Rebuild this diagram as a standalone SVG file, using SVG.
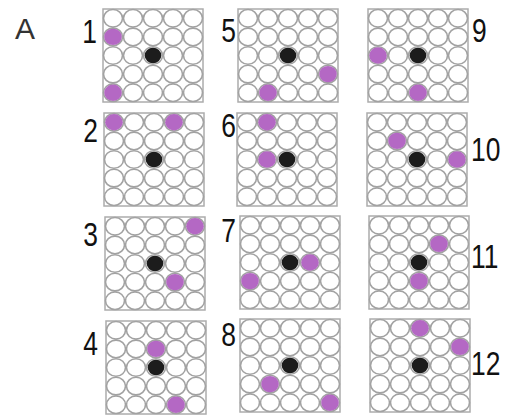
<svg xmlns="http://www.w3.org/2000/svg" xmlns:xlink="http://www.w3.org/1999/xlink" width="505" height="416" viewBox="0 0 505 416">
<style>
.cell{fill:#ffffff;stroke:#a2a2a2;stroke-width:1.6}
.frame{fill:#ffffff;stroke:#acacac;stroke-width:1.5}
.p{fill:#b468c4}
.b{fill:#1c1c1c}
.num{font-family:"Liberation Sans",Arial,sans-serif;font-size:33px;fill:#111}
.lab{font-family:"Liberation Sans",Arial,sans-serif;font-size:30px;fill:#333}
</style>
<defs>
<symbol id="grid" overflow="visible">
<rect class="frame" x="0" y="0" width="100" height="93"/>
<g>
<ellipse class="cell" cx="10" cy="9.3" rx="9.5" ry="8.8"/><ellipse class="cell" cx="30" cy="9.3" rx="9.5" ry="8.8"/><ellipse class="cell" cx="50" cy="9.3" rx="9.5" ry="8.8"/><ellipse class="cell" cx="70" cy="9.3" rx="9.5" ry="8.8"/><ellipse class="cell" cx="90" cy="9.3" rx="9.5" ry="8.8"/>
<ellipse class="cell" cx="10" cy="27.9" rx="9.5" ry="8.8"/><ellipse class="cell" cx="30" cy="27.9" rx="9.5" ry="8.8"/><ellipse class="cell" cx="50" cy="27.9" rx="9.5" ry="8.8"/><ellipse class="cell" cx="70" cy="27.9" rx="9.5" ry="8.8"/><ellipse class="cell" cx="90" cy="27.9" rx="9.5" ry="8.8"/>
<ellipse class="cell" cx="10" cy="46.5" rx="9.5" ry="8.8"/><ellipse class="cell" cx="30" cy="46.5" rx="9.5" ry="8.8"/><ellipse class="cell" cx="50" cy="46.5" rx="9.5" ry="8.8"/><ellipse class="cell" cx="70" cy="46.5" rx="9.5" ry="8.8"/><ellipse class="cell" cx="90" cy="46.5" rx="9.5" ry="8.8"/>
<ellipse class="cell" cx="10" cy="65.1" rx="9.5" ry="8.8"/><ellipse class="cell" cx="30" cy="65.1" rx="9.5" ry="8.8"/><ellipse class="cell" cx="50" cy="65.1" rx="9.5" ry="8.8"/><ellipse class="cell" cx="70" cy="65.1" rx="9.5" ry="8.8"/><ellipse class="cell" cx="90" cy="65.1" rx="9.5" ry="8.8"/>
<ellipse class="cell" cx="10" cy="83.7" rx="9.5" ry="8.8"/><ellipse class="cell" cx="30" cy="83.7" rx="9.5" ry="8.8"/><ellipse class="cell" cx="50" cy="83.7" rx="9.5" ry="8.8"/><ellipse class="cell" cx="70" cy="83.7" rx="9.5" ry="8.8"/><ellipse class="cell" cx="90" cy="83.7" rx="9.5" ry="8.8"/>
</g>
<ellipse class="b" cx="50" cy="46.5" rx="8.3" ry="7.8"/>
</symbol>
</defs>
<rect width="505" height="416" fill="#ffffff"/>
<text class="lab" x="15" y="39">A</text>

<g id="panel1" transform="translate(103,9)">
<use xlink:href="#grid" href="#grid"/>
<ellipse class="p" cx="10" cy="27.9" rx="8.8" ry="8.2"/>
<ellipse class="p" cx="10" cy="83.7" rx="8.8" ry="8.2"/>
</g>
<g id="panel2" transform="translate(104,113)">
<use xlink:href="#grid" href="#grid"/>
<ellipse class="p" cx="10" cy="9.3" rx="8.8" ry="8.2"/>
<ellipse class="p" cx="70" cy="9.3" rx="8.8" ry="8.2"/>
</g>
<g id="panel3" transform="translate(105,217)">
<use xlink:href="#grid" href="#grid"/>
<ellipse class="p" cx="90" cy="9.3" rx="8.8" ry="8.2"/>
<ellipse class="p" cx="70" cy="65.1" rx="8.8" ry="8.2"/>
</g>
<g id="panel4" transform="translate(106,321)">
<use xlink:href="#grid" href="#grid"/>
<ellipse class="p" cx="50" cy="27.9" rx="8.8" ry="8.2"/>
<ellipse class="p" cx="70" cy="83.7" rx="8.8" ry="8.2"/>
</g>
<g id="panel5" transform="translate(238,9)">
<use xlink:href="#grid" href="#grid"/>
<ellipse class="p" cx="90" cy="65.1" rx="8.8" ry="8.2"/>
<ellipse class="p" cx="30" cy="83.7" rx="8.8" ry="8.2"/>
</g>
<g id="panel6" transform="translate(237,113)">
<use xlink:href="#grid" href="#grid"/>
<ellipse class="p" cx="30" cy="9.3" rx="8.8" ry="8.2"/>
<ellipse class="p" cx="30" cy="46.5" rx="8.8" ry="8.2"/>
</g>
<g id="panel7" transform="translate(240,216)">
<use xlink:href="#grid" href="#grid"/>
<ellipse class="p" cx="70" cy="46.5" rx="8.8" ry="8.2"/>
<ellipse class="p" cx="10" cy="65.1" rx="8.8" ry="8.2"/>
</g>
<g id="panel8" transform="translate(240,319)">
<use xlink:href="#grid" href="#grid"/>
<ellipse class="p" cx="30" cy="65.1" rx="8.8" ry="8.2"/>
<ellipse class="p" cx="90" cy="83.7" rx="8.8" ry="8.2"/>
</g>
<g id="panel9" transform="translate(368,9)">
<use xlink:href="#grid" href="#grid"/>
<ellipse class="p" cx="10" cy="46.5" rx="8.8" ry="8.2"/>
<ellipse class="p" cx="50" cy="83.7" rx="8.8" ry="8.2"/>
</g>
<g id="panel10" transform="translate(367,113)">
<use xlink:href="#grid" href="#grid"/>
<ellipse class="p" cx="30" cy="27.9" rx="8.8" ry="8.2"/>
<ellipse class="p" cx="90" cy="46.5" rx="8.8" ry="8.2"/>
</g>
<g id="panel11" transform="translate(369,216)">
<use xlink:href="#grid" href="#grid"/>
<ellipse class="p" cx="70" cy="27.9" rx="8.8" ry="8.2"/>
<ellipse class="p" cx="50" cy="65.1" rx="8.8" ry="8.2"/>
</g>
<g id="panel12" transform="translate(370,319)">
<use xlink:href="#grid" href="#grid"/>
<ellipse class="p" cx="50" cy="9.3" rx="8.8" ry="8.2"/>
<ellipse class="p" cx="90" cy="27.9" rx="8.8" ry="8.2"/>
</g>

<g id="labels">
<text class="num" text-anchor="end" transform="translate(97,43) scale(0.8,1)">1</text>
<text class="num" text-anchor="end" transform="translate(98,142) scale(0.8,1)">2</text>
<text class="num" text-anchor="end" transform="translate(98,246) scale(0.8,1)">3</text>
<text class="num" text-anchor="end" transform="translate(98,355) scale(0.8,1)">4</text>
<text class="num" text-anchor="end" transform="translate(236,42) scale(0.8,1)">5</text>
<text class="num" text-anchor="end" transform="translate(236,137) scale(0.8,1)">6</text>
<text class="num" text-anchor="end" transform="translate(236,242) scale(0.8,1)">7</text>
<text class="num" text-anchor="end" transform="translate(236,346) scale(0.8,1)">8</text>
<text class="num" transform="translate(472,42) scale(0.8,1)">9</text>
<text class="num" transform="translate(471,161) scale(0.8,1)">10</text>
<text class="num" transform="translate(471,268) scale(0.8,1)">11</text>
<text class="num" transform="translate(471,375) scale(0.8,1)">12</text>
</g>
</svg>
